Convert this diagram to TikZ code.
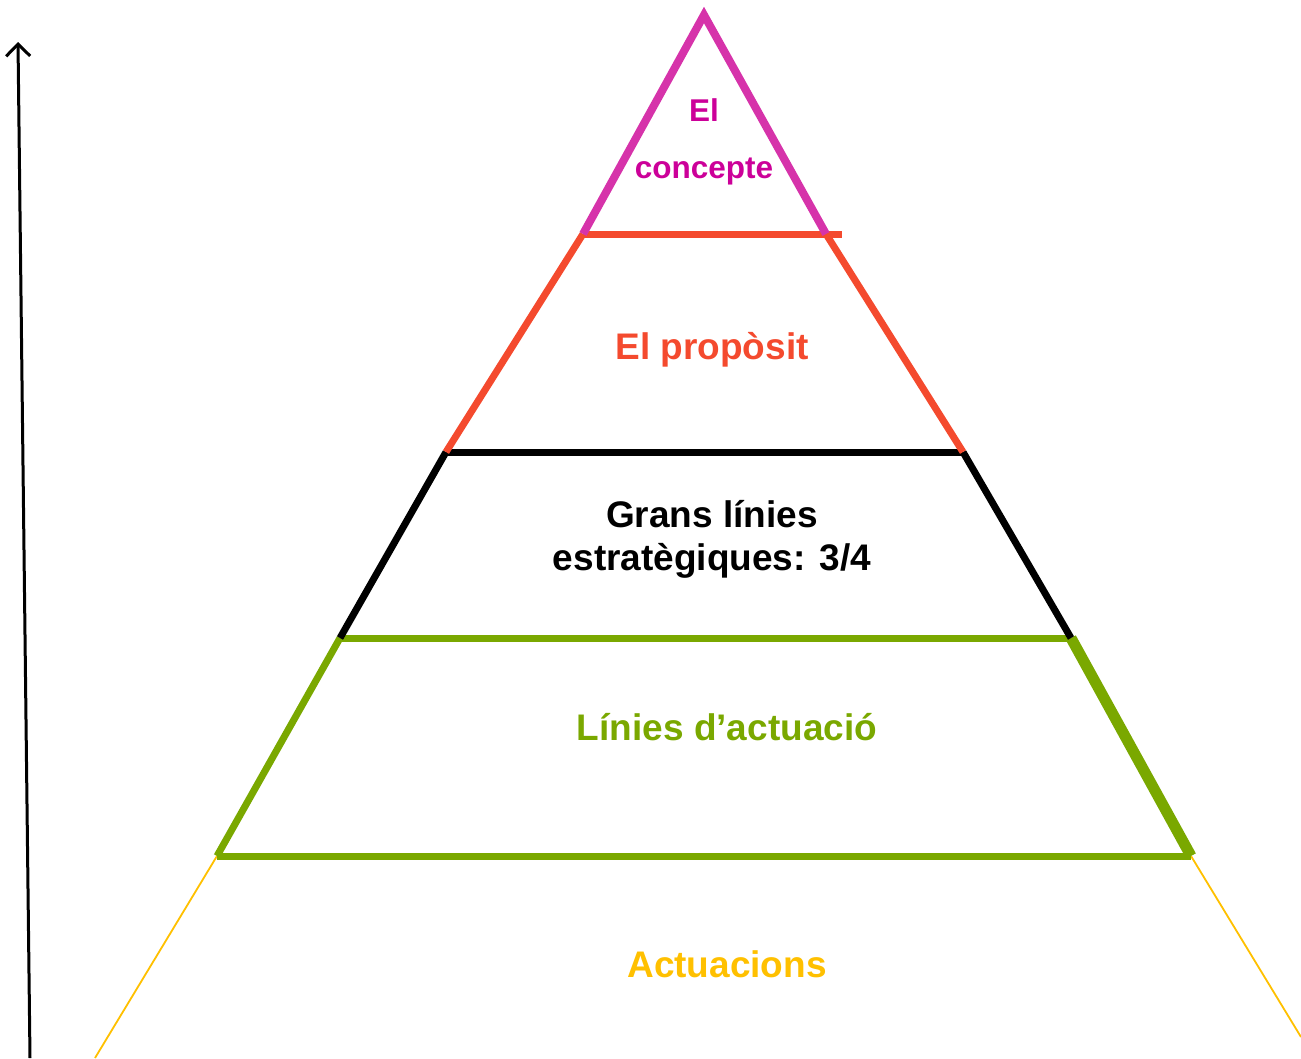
\documentclass[tikz,border=0pt]{standalone}
\usepackage{fontspec}
\setmainfont{Liberation Sans}
\usetikzlibrary{arrows.meta}
\definecolor{rosa}{RGB}{214,51,170}
\definecolor{rosatext}{RGB}{204,0,153}
\definecolor{taronja}{RGB}{244,74,46}
\definecolor{verd}{RGB}{122,168,0}
\definecolor{groc}{RGB}{255,192,0}
\tikzset{
  etiqueta/.style={font=\fontsize{37}{43}\selectfont\bfseries, align=center},
}
\begin{document}
\begin{tikzpicture}[x=1pt,y=-1pt]
                \useasboundingbox (0,0) rectangle (1301,1058);
                % punts de la piramide
                \coordinate (cim) at (704,15);
                \coordinate (a1) at (583,234) ; \coordinate (b1) at (826,234) ;
                \coordinate (a2) at (446,452) ; \coordinate (b2) at (963,452) ;
                \coordinate (a3) at (340,638) ; \coordinate (b3) at (1071,638) ;
                \coordinate (a4) at (217,856) ; \coordinate (b4) at (1191,856) ;
                \coordinate (a5) at (95,1058) ; \coordinate (b5) at (1301,1037) ;
                % fletxa
                \coordinate (baix) at (30,1058) ;
                \coordinate (dalt) at (18,42) ;
                \draw [line width=3pt, -{Straight Barb[length=12pt,width=24pt]}] (baix) -- (dalt) ;
                % nivells
                \draw [groc, line width=1.8pt] (a4) -- (a5) ;
                \draw [groc, line width=1.8pt] (b4) -- (b5) ;
                \draw [verd, line width=7pt] (a4) -- (b4) ;
                \draw [verd, line width=7pt] (a3) -- (a4) ;
                \draw [verd, line width=11pt] (b3) -- (b4) ;
                \draw [verd, line width=7pt] (a3) -- (b3) ;
                \draw [line width=7pt] (a2) -- (a3) ;
                \draw [line width=7pt] (b2) -- (b3) ;
                \draw [line width=7pt] (a2) -- (b2) ;
                \draw [taronja, line width=7pt] (a1) -- (a2) ;
                \draw [taronja, line width=7pt] (b1) -- (b2) ;
                \draw [taronja, line width=7pt] (a1) -- (842,234) ;
                \draw [rosa, line width=8pt, line join=miter] (a1) -- (cim) -- (b1) ;
                % textos
                \draw (704,110) node [etiqueta, rosatext, font=\fontsize{31.5}{36}\selectfont\bfseries] (t1) {El} ;
                \draw (704,171) node [etiqueta, rosatext, font=\fontsize{31.5}{36}\selectfont\bfseries] (t2) {concepte} ;
                \draw (712,350) node [etiqueta, taronja] (t3) {El propòsit} ;
                \draw (712,539) node [etiqueta] (t4) {Grans línies\\estratègiques: 3/4} ;
                \draw (727,727) node [etiqueta, verd] (t5) {Línies d’actuació} ;
                \draw (727,964) node [etiqueta, groc] (t6) {Actuacions} ;
\end{tikzpicture}
\end{document}
